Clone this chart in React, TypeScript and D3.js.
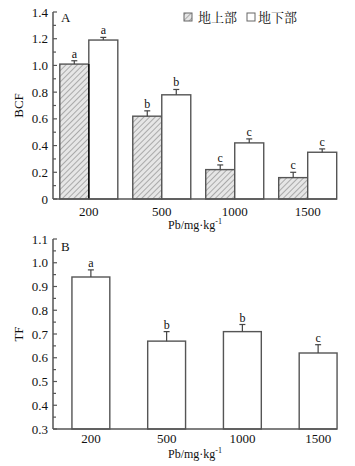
import React from "react";
import * as d3 from "d3";

const categories = ["200", "500", "1000", "1500"];
const aboveValues = [1.01, 0.62, 0.22, 0.16];
const aboveErrors = [0.025, 0.04, 0.035, 0.04];
const aboveLetters = ["a", "b", "c", "c"];
const belowValues = [1.19, 0.78, 0.42, 0.35];
const belowErrors = [0.02, 0.04, 0.03, 0.025];
const belowLetters = ["a", "b", "c", "c"];
const tfValues = [0.94, 0.67, 0.71, 0.62];
const tfErrors = [0.03, 0.04, 0.03, 0.035];
const tfLetters = ["a", "b", "b", "c"];
const bcfTicks = [0, 0.2, 0.4, 0.6, 0.8, 1.0, 1.2, 1.4];
const tfTicks = [0.3, 0.4, 0.5, 0.6, 0.7, 0.8, 0.9, 1.0, 1.1];
const legendLabels = ["地上部", "地下部"];

const SERIF = "'Liberation Serif', 'Times New Roman', serif";
const CJK = "'Liberation Serif', 'Noto Serif CJK SC', 'Noto Sans CJK SC', serif";
const STROKE = "#555";

function XTitle({ x, y }: { x: number; y: number }) {
  return (
    <text x={x} y={y} fontFamily={SERIF} fontSize={12} textAnchor="middle" fill="#111">
      Pb/mg·kg<tspan fontSize={8} dy={-5}>-1</tspan>
    </text>
  );
}

export default function App() {
  const xL = 53;
  const xR = 337;

  // Panel A
  const yA = d3.scaleLinear().domain([0, 1.4]).range([199, 12]);
  const xA = d3.scaleBand<string>().domain(categories).range([52.5, 344]).paddingInner(0.205).paddingOuter(0.1);
  const bw = xA.bandwidth() / 2;
  const minorA = d3.range(0, 1.41, 0.1);

  // Panel B
  const yB = d3.scaleLinear().domain([0.3, 1.1]).range([429, 239]);
  const xB = d3.scaleBand<string>().domain(categories).range([53, 356]).paddingInner(0.5).paddingOuter(0.25);
  const minorB = d3.range(0.3, 1.101, 0.05);

  const errBar = (cx: number, y0: number, y1: number, key: string) => (
    <g key={key} stroke="#444" strokeWidth={1.2}>
      <line x1={cx} x2={cx} y1={y0} y2={y1} />
      <line x1={cx - 3} x2={cx + 3} y1={y1} y2={y1} />
    </g>
  );

  return (
    <svg width={355} height={466} style={{ display: "block", position: "absolute", left: 0, top: 0 }}>
      <defs>
        <pattern id="hatch" patternUnits="userSpaceOnUse" width={4} height={4} patternTransform="rotate(45)">
          <rect width={4} height={4} fill="#e6e6e6" />
          <line x1={0} y1={0} x2={0} y2={4} stroke="#8a8a8a" strokeWidth={1.3} />
        </pattern>
      </defs>
      <rect width={355} height={466} fill="#fff" />

      {/* ===== Panel A ===== */}
      {categories.map((c, i) => {
        const x0 = xA(c)!;
        const ya = yA(aboveValues[i]);
        const yb = yA(belowValues[i]);
        const yae = yA(aboveValues[i] + aboveErrors[i]);
        const ybe = yA(belowValues[i] + belowErrors[i]);
        return (
          <g key={c}>
            <rect x={x0} y={ya} width={bw} height={yA(0) - ya} fill="url(#hatch)" stroke={STROKE} strokeWidth={1.4} />
            <rect x={x0 + bw} y={yb} width={bw} height={yA(0) - yb} fill="#fff" stroke={STROKE} strokeWidth={1.4} />
            {errBar(x0 + bw / 2, ya, yae, "ea")}
            {errBar(x0 + bw * 1.5, yb, ybe, "eb")}
            <text x={x0 + bw / 2} y={yae - 3} fontFamily={SERIF} fontSize={12} textAnchor="middle" fill="#111">{aboveLetters[i]}</text>
            <text x={x0 + bw * 1.5} y={ybe - 3} fontFamily={SERIF} fontSize={12} textAnchor="middle" fill="#111">{belowLetters[i]}</text>
            <text x={x0 + bw} y={216} fontFamily={SERIF} fontSize={13} textAnchor="middle" fill="#111">{c}</text>
          </g>
        );
      })}
      <line x1={xA(categories[0])! + bw} x2={xA(categories[0])! + bw} y1={yA(aboveValues[0])} y2={yA(0)} stroke="#111" strokeWidth={1.6} />
      {/* axes A */}
      <line x1={xL} x2={xL} y1={yA(1.4)} y2={yA(0)} stroke={STROKE} strokeWidth={1.5} />
      <line x1={xL} x2={xR} y1={yA(0)} y2={yA(0)} stroke={STROKE} strokeWidth={1.5} />
      {minorA.map((v, i) => (
        <line key={"ma" + i} x1={xL} x2={xL + (i % 2 === 0 ? 4 : 3)} y1={yA(v)} y2={yA(v)} stroke={STROKE} strokeWidth={1.2} />
      ))}
      {bcfTicks.map((t) => (
        <text key={"ta" + t} x={48} y={yA(t) + 4.5} fontFamily={SERIF} fontSize={13} textAnchor="end" fill="#111">
          {t === 0 ? "0" : t.toFixed(1)}
        </text>
      ))}
      <text x={61} y={22} fontFamily={SERIF} fontSize={13} fill="#111">A</text>
      <text transform={`translate(23,${(yA(0) + yA(1.4)) / 2}) rotate(-90)`} fontFamily={SERIF} fontSize={13} textAnchor="middle" fill="#111">BCF</text>
      <XTitle x={195} y={229} />

      {/* legend */}
      <rect x={184} y={13} width={8} height={8} fill="url(#hatch)" stroke="#666" strokeWidth={1} />
      <text x={198} y={22} fontFamily={CJK} fontSize={13} fill="#111">{legendLabels[0]}</text>
      <rect x={247} y={13} width={8} height={8} fill="#fff" stroke="#666" strokeWidth={1} />
      <text x={258} y={22} fontFamily={CJK} fontSize={13} fill="#111">{legendLabels[1]}</text>

      {/* ===== Panel B ===== */}
      {categories.map((c, i) => {
        const x0 = xB(c)!;
        const w = xB.bandwidth();
        const yv = yB(tfValues[i]);
        const ye = yB(tfValues[i] + tfErrors[i]);
        return (
          <g key={"b" + c}>
            <rect x={x0} y={yv} width={w} height={yB(0.3) - yv} fill="#fff" stroke={STROKE} strokeWidth={1.4} />
            {errBar(x0 + w / 2, yv, ye, "e")}
            <text x={x0 + w / 2} y={ye - 3} fontFamily={SERIF} fontSize={12} textAnchor="middle" fill="#111">{tfLetters[i]}</text>
            <text x={x0 + w / 2} y={443} fontFamily={SERIF} fontSize={13} textAnchor="middle" fill="#111">{c}</text>
          </g>
        );
      })}
      <line x1={xL} x2={xL} y1={yB(1.1)} y2={yB(0.3)} stroke={STROKE} strokeWidth={1.5} />
      <line x1={xL} x2={xR} y1={yB(0.3)} y2={yB(0.3)} stroke={STROKE} strokeWidth={1.5} />
      {minorB.map((v, i) => (
        <line key={"mb" + i} x1={xL} x2={xL + (i % 2 === 0 ? 4 : 3)} y1={yB(v)} y2={yB(v)} stroke={STROKE} strokeWidth={1.2} />
      ))}
      {tfTicks.map((t) => (
        <text key={"tb" + t} x={48} y={yB(t) + 4.5} fontFamily={SERIF} fontSize={13} textAnchor="end" fill="#111">
          {t.toFixed(1)}
        </text>
      ))}
      <text x={61} y={251} fontFamily={SERIF} fontSize={13} fill="#111">B</text>
      <text transform={`translate(23,${(yB(0.3) + yB(1.1)) / 2}) rotate(-90)`} fontFamily={SERIF} fontSize={13} textAnchor="middle" fill="#111">TF</text>
      <XTitle x={195} y={458} />
    </svg>
  );
}
